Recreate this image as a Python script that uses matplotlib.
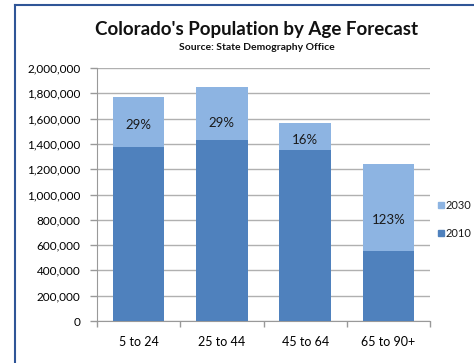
import matplotlib
matplotlib.use("Agg")
import matplotlib.pyplot as plt
from matplotlib.patches import Rectangle
from matplotlib.lines import Line2D
from matplotlib.ticker import FuncFormatter, FixedLocator

categories = ["5 to 24", "25 to 44", "45 to 64", "65 to 90+"]
pop_2010 = [1374000, 1431000, 1348000, 556000]
pop_2030 = [1774000, 1852000, 1564000, 1243000]
growth_labels = ["29%", "29%", "16%", "123%"]
label_y = [1550000, 1565000, 1430000, 800000]
series_names = ["2030", "2010"]

plt.rcParams['font.family'] = ['Lato', 'DejaVu Sans']

c2010 = "#4F81BD"
c2030 = "#8DB4E2"

fig = plt.figure(figsize=(4.74, 3.63), dpi=100)
ax = fig.add_axes([97/474, 1-321/363, (430-97)/474, (321-68)/363])

x = list(range(len(categories)))
w = 0.62
ax.bar(x, pop_2030, width=w, color=c2030, zorder=2)
ax.bar(x, pop_2010, width=w, color=c2010, zorder=3)

for xi, t, yy in zip(x, growth_labels, label_y):
    ax.text(xi, yy, t, ha='center', va='center', fontsize=9.5, color='#1a1a1a', zorder=4)

ax.set_xlim(-0.5, len(categories) - 0.5)
ax.set_ylim(0, 2000000)
ax.yaxis.set_major_locator(FixedLocator(range(0, 2000001, 200000)))
ax.yaxis.set_major_formatter(FuncFormatter(lambda v, p: f"{int(v):,}"))
ax.grid(axis='y', color='#B0B0B0', linewidth=1.0, zorder=0)
ax.set_axisbelow(True)

ax.set_xticks(x)
ax.set_xticklabels(categories, fontsize=9)
ax.tick_params(axis='x', which='major', length=0, pad=11)
ax.set_xticks([-0.5, 0.5, 1.5, 2.5, 3.5], minor=True)
ax.tick_params(axis='x', which='minor', length=4, color='#999999', width=1)
ax.tick_params(axis='y', length=5, color='#999999', width=1, labelsize=8.5, pad=7)

for s in ['top', 'right']:
    ax.spines[s].set_visible(False)
ax.spines['left'].set_color('#999999')
ax.spines['bottom'].set_color('#999999')

fig.text(257/474, 1-30/363, "Colorado's Population by Age Forecast", ha='center', va='center',
         fontsize=13.5, fontweight='bold', color='#111111')
fig.text(257/474, 1-47/363, "Source: State Demography Office", ha='center', va='center',
         fontsize=7.5, fontweight='bold', color='#111111')

# legend (manual)
for name, col, yy in zip(series_names, [c2030, c2010], [205, 233]):
    fig.patches.append(Rectangle((438/474, 1-(yy+3)/363), 6/474, 6/363,
                                 transform=fig.transFigure, color=col))
    fig.text(446/474, 1-yy/363, name, ha='left', va='center', fontsize=8, color='#1a1a1a')

# outer frame lines
fig.add_artist(Line2D([15/474, 15/474], [0, 1-5/363], transform=fig.transFigure, color='#2F5597', lw=1.5))
fig.add_artist(Line2D([15/474, 1], [1-5/363, 1-5/363], transform=fig.transFigure, color='#2F5597', lw=1.5))

fig.savefig("out.png", dpi=100)
